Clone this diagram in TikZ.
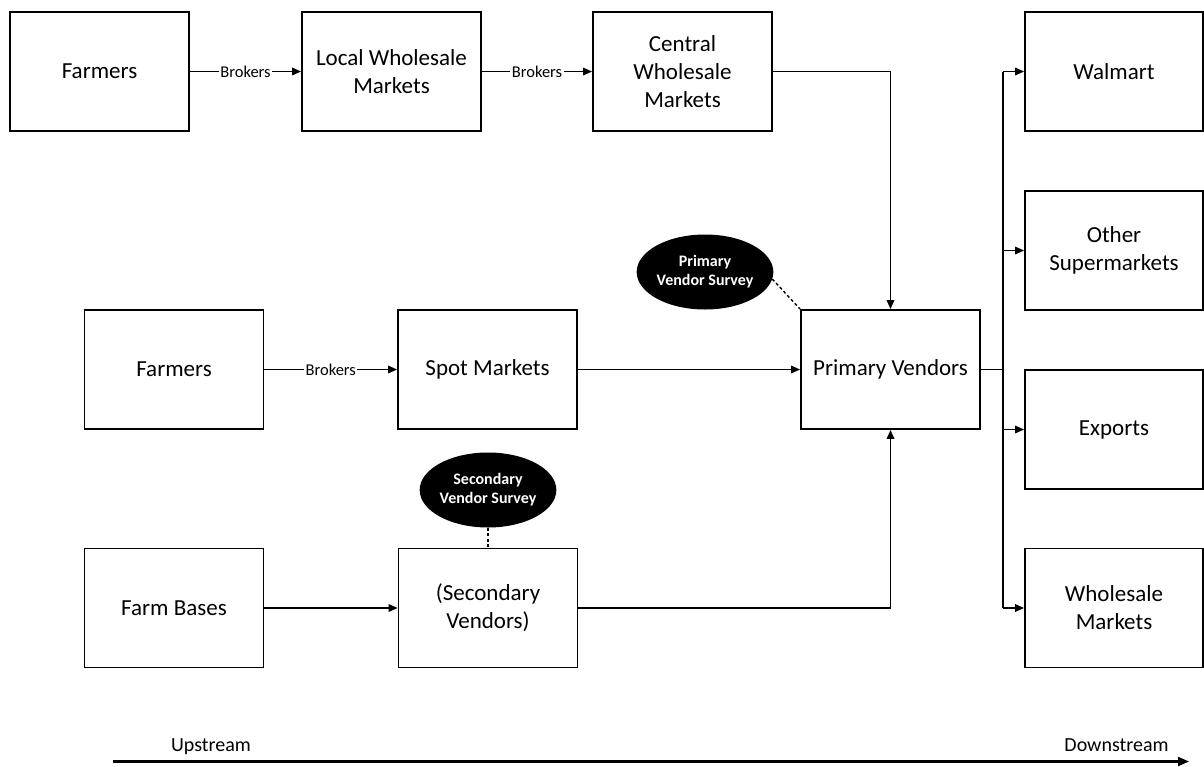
\documentclass[tikz,border=0pt]{standalone}
\usepackage{fontspec}
\setmainfont{Carlito}
\usetikzlibrary{arrows.meta,shapes.geometric}
\begin{document}
\begin{tikzpicture}[x=1pt,y=-1pt,
 box/.style={draw,line width=1.8pt,minimum width=179pt,minimum height=119pt,align=center,inner sep=0pt,font=\fontsize{23}{28}\selectfont},
 rbox/.style={box,minimum width=178pt},
 oval/.style={ellipse,fill=black,text=white,minimum width=136pt,minimum height=75pt,inner sep=0pt,align=center,font=\bfseries\fontsize{16}{19}\selectfont},
 conn/.style={line width=1.6pt,-{Triangle[length=9pt,width=7.5pt]}},
 plain/.style={line width=1.6pt},
 lbl/.style={fill=white,inner sep=1.5pt,font=\fontsize{16.5}{19}\selectfont},
 survey/.style={line width=1.4pt,dash pattern=on 3pt off 2.5pt},
 axis/.style={line width=2.2pt,-{Triangle[length=11pt,width=9pt]}},
 axlbl/.style={anchor=base,inner sep=0pt,font=\fontsize{20}{23}\selectfont}]
\useasboundingbox (0,0) rectangle (1204,766);

% top row
\node[box] (f1) at (99.5,71.5) {Farmers};
\node[box] (lw) at (391.5,71.5) {Local Wholesale\\Markets};
\node[box] (cw) at (682.5,71.5) {Central\\Wholesale\\Markets};

% middle row
\node[box] (f2) at (174,369.5) {Farmers};
\node[box] (sm) at (487.5,369.5) {Spot Markets};
\node[box] (pv) at (890.5,369.5) {Primary Vendors};

% bottom row
\node[box] (fb) at (174,608) {Farm Bases};
\node[box] (sv) at (488,608) {(Secondary\\Vendors)};

% right column
\node[rbox] (wm) at (1114,71.5) {Walmart};
\node[rbox] (os) at (1114,250.5) {Other\\Supermarkets};
\node[rbox] (ex) at (1114,429.5) {Exports};
\node[rbox] (wh) at (1114,608) {Wholesale\\Markets};

% surveys
\node[oval] (pvs) at (705,272) {Primary\\Vendor Survey};
\node[oval] (svs) at (488,490) {Secondary\\Vendor Survey};
\draw[survey] (pvs.-6) -- (pv.north west);
\draw[survey] (svs.south) -- (sv.north);

% broker connectors
\draw[conn] (f1.east) -- node[lbl] {Brokers} (lw.west);
\draw[conn] (lw.east) -- node[lbl] {Brokers} (cw.west);
\draw[conn] (f2.east) -- node[lbl] {Brokers} (sm.west);

% into primary vendors
\draw[conn] (cw.east) -| (pv.north);
\draw[conn] (sm.east) -- (pv.west);
\draw[conn] (sv.east) -| (pv.south);
\draw[conn] (fb.east) -- (sv.west);

% distribution bus
\coordinate (bt) at (1003,71.5);
\coordinate (bb) at (1003,608);
\draw[plain] (pv.east) -- (pv.east -| bt);
\draw[plain] (bt) -- (bb);
\draw[conn] (bt) -- (wm.west);
\draw[conn] (bt |- os.west) -- (os.west);
\draw[conn] (bt |- ex.west) -- (ex.west);
\draw[conn] (bb) -- (wh.west);

% upstream / downstream axis
\coordinate (us) at (113,761.5);
\coordinate (ds) at (1189,761.5);
\draw[axis] (us) -- (ds);
\node[axlbl] (up) at (211,751) {Upstream};
\node[axlbl] (dn) at (1116.5,751) {Downstream};
\end{tikzpicture}
\end{document}
